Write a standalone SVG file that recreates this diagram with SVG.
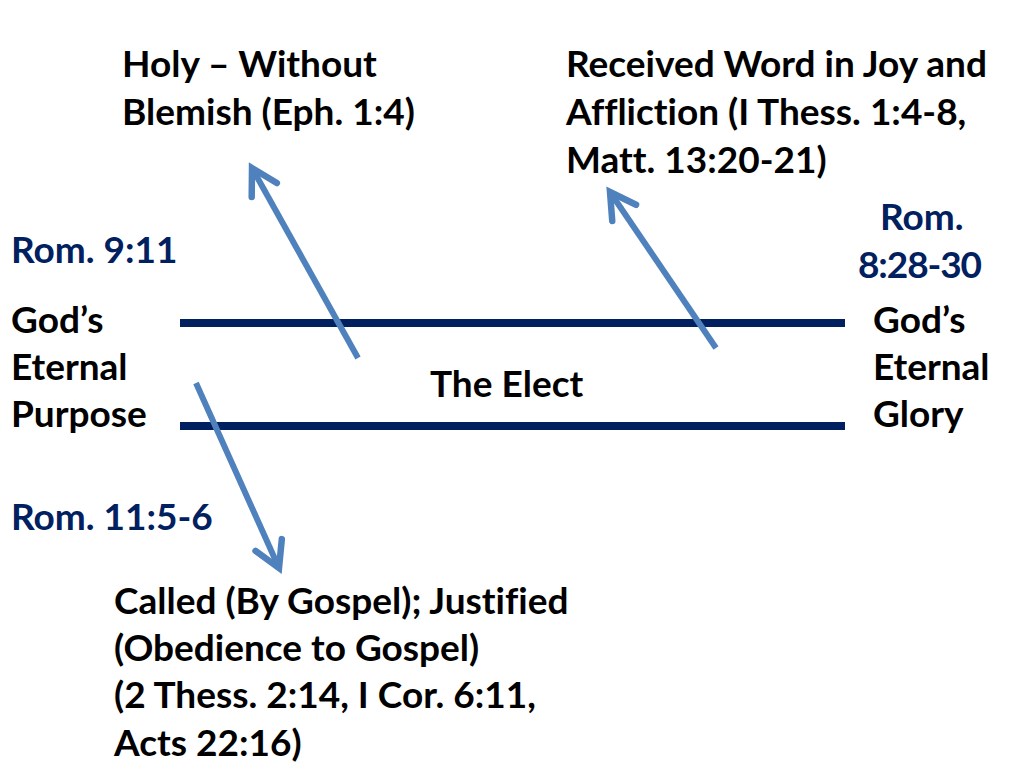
<svg xmlns="http://www.w3.org/2000/svg" width="1024" height="768" viewBox="0 0 1024 768">
<defs>
<style>
.t{font-family:Lato,"Open Sans","Liberation Sans",sans-serif;font-weight:bold;font-size:37px;fill:#000;font-variant-ligatures:none;font-feature-settings:"liga" 0,"dlig" 0}
.n{fill:#002060}
.bar{stroke:#002060;stroke-width:8;fill:none}
.arr{stroke:#4F81BD;stroke-width:6;fill:none;stroke-linecap:butt}
</style>
<marker id="ah" viewBox="0 0 10 10" refX="8" refY="5" markerWidth="6" markerHeight="6" orient="auto" markerUnits="strokeWidth">
<path d="M1,1 L8,5 L1,9" fill="none" stroke="#4F81BD" stroke-width="1.8" stroke-linecap="round" stroke-linejoin="miter"/>
</marker>
</defs>
<rect width="1024" height="768" fill="#fff"/>
<g id="connectors">
<line class="bar" x1="180" y1="323" x2="845" y2="323"/>
<line class="bar" x1="180" y1="426" x2="845" y2="426"/>
<line class="arr" x1="358" y1="358" x2="252" y2="168" marker-end="url(#ah)"/>
<line class="arr" x1="716" y1="348" x2="610" y2="192" marker-end="url(#ah)"/>
<line class="arr" x1="196" y1="383" x2="279" y2="568" marker-end="url(#ah)"/>
</g>
<g id="holy"><text class="t" x="122" y="77">Holy – Without</text><text class="t" x="122" y="125">Blemish (Eph. 1:4)</text></g>
<g id="received"><text class="t" x="566" y="77">Received Word in Joy and</text><text class="t" x="566" y="125">Affliction (I Thess. 1:4-8,</text><text class="t" x="566" y="173">Matt. 13:20-21)</text></g>
<g id="rom828"><text class="t n" x="880" y="230">Rom.</text><text class="t n" x="858" y="278" textLength="124">8:28-30</text></g>
<g id="rom911"><text class="t n" x="11" y="263">Rom. 9:11</text></g>
<g id="purpose"><text class="t" x="11" y="333">God’s</text><text class="t" x="11" y="380">Eternal</text><text class="t" x="11" y="427">Purpose</text></g>
<g id="glory"><text class="t" x="873" y="333">God’s</text><text class="t" x="873" y="380">Eternal</text><text class="t" x="873" y="427">Glory</text></g>
<g id="elect"><text class="t" x="430" y="397">The Elect</text></g>
<g id="rom1156"><text class="t n" x="11" y="530">Rom. 11:5-6</text></g>
<g id="called"><text class="t" x="114" y="614">Called (By Gospel); Justified</text><text class="t" x="114" y="661">(Obedience to Gospel)</text><text class="t" x="114" y="708">(2 Thess. 2:14, I Cor. 6:11,</text><text class="t" x="114" y="756">Acts 22:16)</text></g>
</svg>
